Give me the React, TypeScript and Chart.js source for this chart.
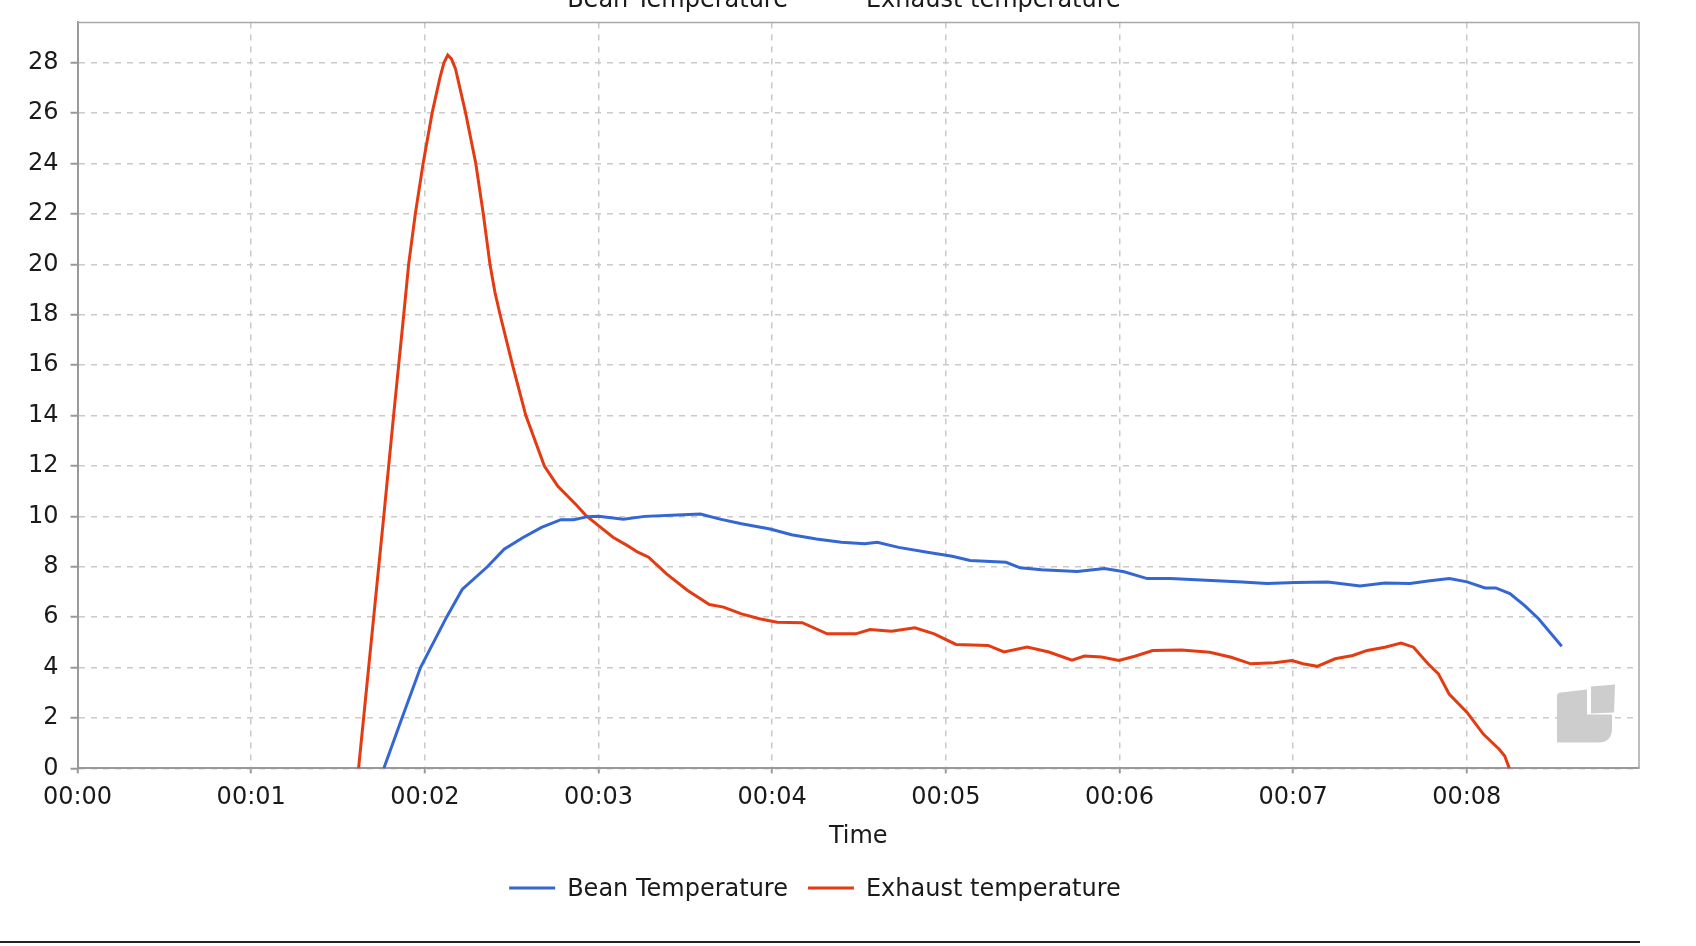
import React, { useEffect, useRef } from 'react';
import { Chart, registerables } from 'chart.js';

Chart.register(...registerables);

// time in seconds, temperatures
const beanTimes = [
  105.8, 112.1, 118.5, 127.5, 132.9, 141.6, 147.4, 153.8, 160.3, 167, 171.4, 176.3, 180,
  188.6, 196, 207.2, 215.2, 222, 229.4, 239.3, 246.7, 255.3, 263.9, 272, 276.3, 283.7,
  293.6, 302.2, 308.4, 320.8, 325.7, 333.1, 345.4, 354.8, 361.6, 369.6, 377.6, 390, 402.4,
  411, 420.8, 432, 443.1, 451.7, 460.4, 466.6, 474, 480.1, 486.3, 490, 494.9, 499.9, 504.8,
  512.8,
];
const beanTemps = [
  0, 2, 4, 6, 7.1, 8, 8.7, 9.15, 9.56, 9.87, 9.87, 9.99, 10.0,
  9.89, 10.0, 10.05, 10.09, 9.89, 9.71, 9.5, 9.27, 9.1, 8.97, 8.91, 8.97, 8.77,
  8.58, 8.42, 8.25, 8.18, 7.96, 7.88, 7.81, 7.93, 7.8, 7.53, 7.53, 7.47, 7.4,
  7.34, 7.38, 7.4, 7.24, 7.36, 7.34, 7.44, 7.53, 7.4, 7.16, 7.16, 6.94, 6.47, 5.94,
  4.85,
];

const exhaustTimes = [
  97.1, 105.8, 109.2, 112.7, 114.4, 116.7, 119.4, 122.5, 125.2, 126.6, 127.9, 129.2, 130.6,
  134.1, 137.6, 140.2, 142.5, 144.2, 146, 150.3, 154.9, 161.3, 165.9, 172.6, 175.5, 180, 185,
  190, 193.6, 197.3, 203.5, 210.8, 218.3, 223.2, 229.4, 235.6, 241.7, 250.4, 259, 268.9,
  273.8, 281.2, 289.3, 296, 303.5, 314.6, 320.1, 328.1, 335.6, 343.6, 347.9, 353.8, 359.8,
  365.3, 371.5, 381.4, 391.2, 398.6, 405.4, 413.5, 419.6, 423.4, 428.3, 434.5, 440.6, 445.6,
  451.7, 457.3, 461.6, 466.6, 470.2, 473.9, 480.1, 485.7, 491.2, 493.1, 494.7,
];
const exhaustTemps = [
  0, 10, 14, 18, 20, 22, 24, 26, 27.4, 28.0, 28.3, 28.15, 27.75,
  26, 24, 22, 20, 18.9, 18, 16, 14, 12, 11.2, 10.42, 10.05, 9.63, 9.17,
  8.84, 8.58, 8.38, 7.72, 7.06, 6.5, 6.4, 6.13, 5.94, 5.8, 5.78, 5.34, 5.34,
  5.51, 5.44, 5.58, 5.34, 4.92, 4.88, 4.62, 4.82, 4.62, 4.29, 4.46, 4.42, 4.28,
  4.45, 4.68, 4.7, 4.61, 4.41, 4.15, 4.19, 4.28, 4.15, 4.05, 4.35, 4.48, 4.68,
  4.81, 4.97, 4.81, 4.15, 3.75, 2.95, 2.22, 1.36, 0.76, 0.49, 0,
];

const seriesLabels = ['Bean Temperature', 'Exhaust temperature'];
const seriesColors = ['#3467d3', '#e53b12'];
const xTickMinutes = [0, 1, 2, 3, 4, 5, 6, 7, 8];

const FONT = "'DejaVu Sans', sans-serif";
const FONT_SIZE = 24;

const toPoints = (xs: number[], ys: number[]) => xs.map((x, i) => ({ x, y: ys[i] }));

// legend drawn by hand: once at the bottom, once clipped at the very top
const drawLegendRow = (chart: any, baseline: number) => {
  const { ctx } = chart;
  const lineW = 46;
  const gap = 12;
  const itemGap = 20;
  ctx.save();
  ctx.font = `${FONT_SIZE}px ${FONT}`;
  const widths = seriesLabels.map((t) => ctx.measureText(t).width);
  const total = widths.reduce((s, w) => s + lineW + gap + w, 0) + itemGap * (seriesLabels.length - 1);
  let x = chart.width / 2 - 5 - total / 2;
  seriesLabels.forEach((label, i) => {
    ctx.strokeStyle = seriesColors[i];
    ctx.lineWidth = 3;
    ctx.beginPath();
    ctx.moveTo(x, baseline - 8);
    ctx.lineTo(x + lineW, baseline - 8);
    ctx.stroke();
    ctx.fillStyle = '#1a1a1a';
    ctx.textBaseline = 'alphabetic';
    ctx.textAlign = 'left';
    ctx.fillText(label, x + lineW + gap, baseline);
    x += lineW + gap + widths[i] + itemGap;
  });
  ctx.restore();
};

const decorations = {
  id: 'decorations',
  beforeDatasetsDraw(chart: any) {
    const { ctx, chartArea } = chart;
    const R = chartArea.right;
    const B = chartArea.bottom;
    ctx.save();
    ctx.fillStyle = '#cdcdcd';
    ctx.beginPath();
    ctx.moveTo(R - 82, B - 72);
    ctx.quadraticCurveTo(R - 82, B - 76, R - 78, B - 76);
    ctx.lineTo(R - 52, B - 79);
    ctx.lineTo(R - 52, B - 54);
    ctx.lineTo(R - 27, B - 54);
    ctx.lineTo(R - 27, B - 40);
    ctx.quadraticCurveTo(R - 27, B - 26, R - 41, B - 26);
    ctx.lineTo(R - 82, B - 26);
    ctx.closePath();
    ctx.fill();
    ctx.beginPath();
    ctx.moveTo(R - 48, B - 82);
    ctx.lineTo(R - 24, B - 84);
    ctx.lineTo(R - 25, B - 56);
    ctx.lineTo(R - 48, B - 55);
    ctx.closePath();
    ctx.fill();
    ctx.restore();
  },
  afterDraw(chart: any) {
    const { ctx, chartArea } = chart;
    ctx.save();
    ctx.strokeStyle = '#a8a8a8';
    ctx.lineWidth = 1.5;
    ctx.beginPath();
    ctx.moveTo(chartArea.left, chartArea.top);
    ctx.lineTo(chartArea.right, chartArea.top);
    ctx.lineTo(chartArea.right, chartArea.bottom);
    ctx.stroke();
    ctx.restore();

    drawLegendRow(chart, chart.height - 39);
    drawLegendRow(chart, 10.5);
  },
};

const RoastChart: React.FC = () => {
  const canvasRef = useRef<HTMLCanvasElement>(null);
  const chartRef = useRef<Chart | null>(null);

  useEffect(() => {
    if (!canvasRef.current) return;
    if (chartRef.current) chartRef.current.destroy();

    chartRef.current = new Chart(canvasRef.current, {
      type: 'line',
      data: {
        datasets: [
          {
            label: seriesLabels[0],
            data: toPoints(beanTimes, beanTemps),
            borderColor: seriesColors[0],
            backgroundColor: seriesColors[0],
            borderWidth: 3,
            pointRadius: 0,
            tension: 0,
          },
          {
            label: seriesLabels[1],
            data: toPoints(exhaustTimes, exhaustTemps),
            borderColor: seriesColors[1],
            backgroundColor: seriesColors[1],
            borderWidth: 3,
            pointRadius: 0,
            tension: 0,
          },
        ],
      },
      options: {
        animation: false,
        responsive: true,
        maintainAspectRatio: false,
        layout: { padding: { left: 16, right: 1, top: 16, bottom: 80 } },
        scales: {
          x: {
            type: 'linear',
            min: 0,
            max: 539.5,
            afterBuildTicks: (scale: any) => {
              scale.ticks = xTickMinutes.map((m) => ({ value: m * 60 }));
            },
            grid: {
              color: '#cacaca',
              lineWidth: 1.5,
              tickColor: '#999999',
              tickLength: 5,
              tickWidth: 2,
            },
            border: { color: '#999999', width: 2, dash: [6, 6] },
            ticks: {
              autoSkip: false,
              maxRotation: 0,
              padding: 10,
              color: '#1a1a1a',
              font: { family: FONT, size: FONT_SIZE },
              callback: (v: any) => '00:' + String(Math.round(Number(v) / 60)).padStart(2, '0'),
            },
            title: {
              display: true,
              text: 'Time',
              color: '#1a1a1a',
              font: { family: FONT, size: FONT_SIZE },
              padding: { top: 0, bottom: 4 },
            },
          },
          y: {
            min: 0,
            max: 29.6,
            grid: {
              color: '#cacaca',
              lineWidth: 1.5,
              tickColor: '#999999',
              tickLength: 7,
              tickWidth: 2,
            },
            border: { color: '#999999', width: 2, dash: [6, 6] },
            ticks: {
              stepSize: 2,
              includeBounds: false,
              padding: 12,
              color: '#1a1a1a',
              font: { family: FONT, size: FONT_SIZE },
            },
          },
        },
        plugins: {
          legend: { display: false },
          tooltip: { enabled: false },
        },
      },
      plugins: [decorations],
    });

    return () => {
      if (chartRef.current) {
        chartRef.current.destroy();
        chartRef.current = null;
      }
    };
  }, []);

  return (
    <div style={{ position: 'absolute', left: 0, top: 0, width: 1696, height: 946, background: '#fff', overflow: 'hidden' }}>
      <div style={{ position: 'absolute', left: 0, top: -4, width: 1640, height: 939 }}>
        <canvas ref={canvasRef} />
      </div>
      <div style={{ position: 'absolute', left: 0, top: 941, width: 1640, height: 2, background: '#222' }} />
    </div>
  );
};

export default function App() {
  return <RoastChart />;
}
